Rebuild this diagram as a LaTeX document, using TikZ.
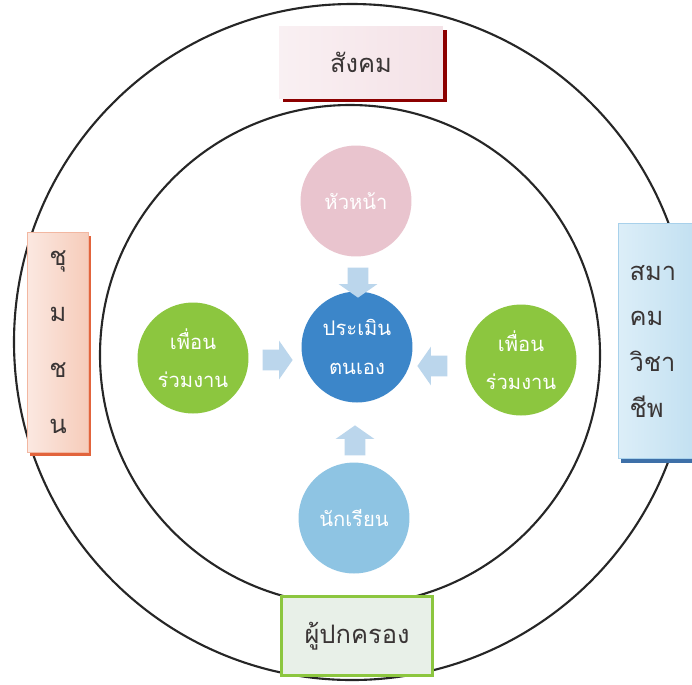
\documentclass[tikz,border=0pt]{standalone}
\usepackage{fontspec}
\newfontfamily\thaifont[Script=Thai]{Loma}
\usetikzlibrary{shapes.arrows,shadows,positioning}
\definecolor{headpink}{HTML}{E9C4CE}
\definecolor{selfblue}{HTML}{3C86C9}
\definecolor{peergreen}{HTML}{8CC63F}
\definecolor{studblue}{HTML}{8EC4E3}
\definecolor{arrowblue}{HTML}{BBD6EC}
\definecolor{labeltext}{HTML}{3A3535}
\definecolor{commlight}{HTML}{FBE8E1}
\definecolor{commdark}{HTML}{F6CCBA}
\definecolor{commshade}{HTML}{E2643C}
\definecolor{assoclight}{HTML}{DCEEF8}
\definecolor{assocdark}{HTML}{C2E0F1}
\definecolor{assocline}{HTML}{A8D1EB}
\definecolor{assocshade}{HTML}{3E70A8}

\begin{document}
\begin{tikzpicture}[x=0.02cm, y=-0.02cm, font=\thaifont]
\tikzset{
  ring/.style={draw=black!85, line width=1.2pt},
  bubble/.style={circle, minimum size=2.22cm, inner sep=0pt, align=center, text=white,
    font=\thaifont\fontsize{11.5}{20}\selectfont},
  sidebox/.style={rectangle, align=center, text=labeltext, inner sep=0pt,
    font=\thaifont\fontsize{14.5}{20}\selectfont},
  blockarr/.style={single arrow, fill=arrowblue, inner sep=0.2cm, minimum height=0.6cm,
    single arrow head extend=0.18cm, single arrow tip angle=110},
}
\useasboundingbox (0,0) rectangle (692,684);
\fill[white] (0,0) rectangle (692,684);

% the two rings
\draw[ring] (352,342) circle [radius=338];
\draw[ring] (350,355) circle [radius=250];

% circles
\node[bubble, fill=headpink] (head) at (356,201) {หัวหน้า};
\node[bubble, fill=selfblue] (self) at (357,347) {ประเมิน\\[2pt]ตนเอง};
\node[bubble, fill=peergreen] (peerl) at (193,358) {เพื่อน\\[2pt]ร่วมงาน};
\node[bubble, fill=peergreen] (peerr) at (521,360) {เพื่อน\\[2pt]ร่วมงาน};
\node[bubble, fill=studblue] (student) at (354,518) {นักเรียน};

% block arrows
\node[blockarr, shape border rotate=270] (adown) at (358,279) {};
\node[blockarr, shape border rotate=0] (aright) at (274,360) {};
\node[blockarr, shape border rotate=180] (aleft) at (436,366) {};
\node[blockarr, shape border rotate=90] (aup) at (355,444) {};

% boxes
\node[sidebox, minimum width=3.28cm, minimum height=1.44cm,
  left color=headpink!25, right color=headpink!50,
  drop shadow={shadow xshift=2pt, shadow yshift=-2.5pt, fill=red!55!black, opacity=1}]
  (society) at (361,62) {สังคม};
\node[sidebox, minimum width=1.22cm, minimum height=4.4cm, draw=commdark!80!commshade,
  left color=commlight, right color=commdark,
  drop shadow={shadow xshift=1.5pt, shadow yshift=-2pt, fill=commshade, opacity=1},
  font=\thaifont\fontsize{14.5}{32}\selectfont]
  (community) at (58,342) {ชุ\\ม\\ช\\น};
\node[sidebox, minimum width=1.56cm, minimum height=4.7cm, draw=assocline,
  left color=assoclight, right color=assocdark, align=left, text width=1.1cm,
  drop shadow={shadow xshift=1.5pt, shadow yshift=-2.5pt, fill=assocshade, opacity=1},
  font=\thaifont\fontsize{14.5}{26}\selectfont]
  (assoc) at (657,341) {สมา\\คม\\วิชา\\ชีพ};
\node[sidebox, minimum width=3.02cm, minimum height=1.58cm, draw=peergreen, line width=2pt,
  fill=green!20!gray!15]
  (parents) at (357,636) {ผู้ปกครอง};
\end{tikzpicture}
\end{document}
